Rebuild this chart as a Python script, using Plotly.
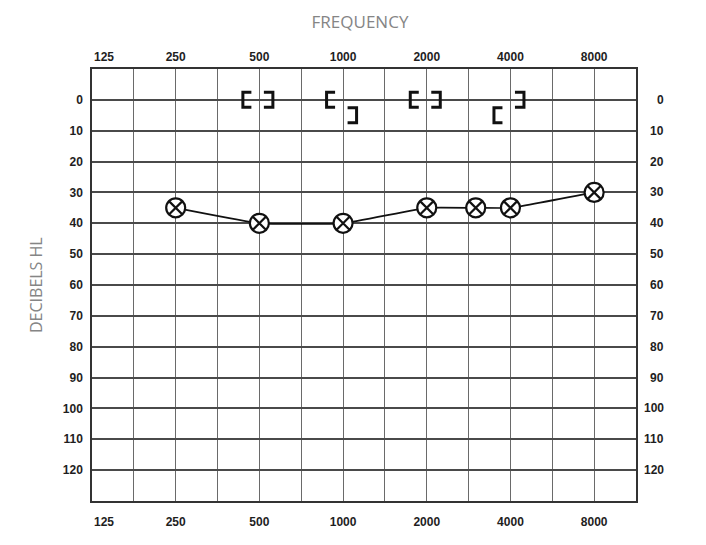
import math
import plotly.graph_objects as go

# ---------------- data ----------------
FREQ_TICKS = [125, 250, 500, 1000, 2000, 4000, 8000]
FREQ_LABELS = ["125", "250", "500", "1000", "2000", "4000", "8000"]
DB_TICKS = [0, 10, 20, 30, 40, 50, 60, 70, 80, 90, 100, 110, 120]
DB_LABELS = [str(v) for v in DB_TICKS]

# air conduction thresholds (circle with X)
AC_FREQ = [250, 500, 1000, 2000, 3000, 4000, 8000]
AC_DB = [35, 40, 40, 35, 35, 35, 30]

# bone conduction, "[" symbols
BC_L_FREQ = [500, 1000, 2000, 4000]
BC_L_DB = [0, 0, 0, 5]
# bone conduction, "]" symbols
BC_R_FREQ = [500, 1000, 2000, 4000]
BC_R_DB = [0, 5, 0, 0]

# ---------------- figure ----------------
# grid every half octave: octave frequencies plus their geometric means
grid_vals = []
grid_text = []
for i, f in enumerate(FREQ_TICKS):
    grid_vals.append(f)
    grid_text.append("" if i == 0 else FREQ_LABELS[i])
    grid_vals.append(f * math.sqrt(2))
    grid_text.append("")

x_range = [math.log10(FREQ_TICKS[0]), math.log10(FREQ_TICKS[-1] * math.sqrt(2))]

tick_font = dict(family="Liberation Sans, Arial, sans-serif", size=12, color="#1e1e1e", weight="bold")
gray_font = dict(family="Open Sans, Noto Sans, sans-serif", color="#858585")

# bracket glyphs drawn as pixel-sized paths anchored at each data point
LEFT_BRACKET_PATH = "M -8 -7.5 L -16.5 -7.5 L -16.5 7.5 L -8 7.5"
RIGHT_BRACKET_PATH = "M 4.5 -7.5 L 13.5 -7.5 L 13.5 7.5 L 4.5 7.5"
bracket_line = dict(color="#111111", width=3)

fig = go.Figure()

fig.add_trace(go.Scatter(
    x=AC_FREQ, y=AC_DB, mode="lines+markers",
    line=dict(color="#111111", width=1.7, shape="spline", smoothing=0.3),
    marker=dict(symbol="circle-x", size=19, color="white",
                line=dict(color="#111111", width=2.2)),
    hoverinfo="x+y", showlegend=False,
))
# dummy trace for top axis
fig.add_trace(go.Scatter(x=[FREQ_TICKS[0]], y=[None], xaxis="x2", showlegend=False,
                         hoverinfo="skip"))

shapes = []
for f, d in zip(BC_L_FREQ, BC_L_DB):
    shapes.append(dict(type="path", xref="x", yref="y", xsizemode="pixel", ysizemode="pixel",
                       xanchor=f, yanchor=d, path=LEFT_BRACKET_PATH, line=bracket_line))
for f, d in zip(BC_R_FREQ, BC_R_DB):
    shapes.append(dict(type="path", xref="x", yref="y", xsizemode="pixel", ysizemode="pixel",
                       xanchor=f, yanchor=d, path=RIGHT_BRACKET_PATH, line=bracket_line))

annotations = []
# right-hand dB labels (right aligned)
for v, t in zip(DB_TICKS, DB_LABELS):
    annotations.append(dict(x=1, y=v, xref="paper", yref="y", text=t, showarrow=False,
                            xanchor="right", xshift=30, font=tick_font))
# 125 labels at left border (top and bottom)
annotations.append(dict(x=math.log10(FREQ_TICKS[0]), y=1, xref="x", yref="paper",
                        text=FREQ_LABELS[0], showarrow=False, xanchor="left", yanchor="middle",
                        yshift=12, font=tick_font))
annotations.append(dict(x=math.log10(FREQ_TICKS[0]), y=0, xref="x", yref="paper",
                        text=FREQ_LABELS[0], showarrow=False, xanchor="left", yanchor="middle",
                        yshift=-21, font=tick_font))
# y title
annotations.append(dict(x=0, y=0.5, xref="paper", yref="paper", text="DECIBELS HL",
                        textangle=-90, showarrow=False, xanchor="center", yanchor="middle",
                        xshift=-56, font=dict(size=16, **gray_font)))

# page body has an 8px margin; compensate so the plot lands where the reference has it
OFF = 8
fig.update_layout(
    width=706, height=545,
    margin=dict(l=92 - OFF, r=78, t=69 - OFF, b=52),
    paper_bgcolor="white", plot_bgcolor="white",
    title=dict(text="FREQUENCY", x=(360 - OFF) / 706, xref="container", xanchor="center",
               y=1 - (22 - OFF) / 545, yanchor="middle", yref="container",
               font=dict(size=17, **gray_font)),
    xaxis=dict(type="log", range=x_range, tickvals=grid_vals, ticktext=grid_text,
               showgrid=True, gridcolor="#6a6a6a", gridwidth=1.2,
               showline=True, linecolor="#333333", linewidth=1.5, mirror=True,
               ticks="", tickfont=tick_font, ticklabelstandoff=9, zeroline=False),
    xaxis2=dict(type="log", range=x_range, tickvals=grid_vals, ticktext=grid_text,
                overlaying="x", side="top", anchor="y", matches="x",
                showgrid=False, ticks="", tickfont=tick_font, ticklabelstandoff=5,
                showline=False),
    yaxis=dict(range=[130, -10], tickvals=DB_TICKS, ticktext=DB_LABELS,
               showgrid=True, gridcolor="#4a4a4a", gridwidth=1.5,
               showline=True, linecolor="#333333", linewidth=1.5, mirror=True,
               ticks="", tickfont=tick_font, ticklabelstandoff=5, zeroline=False),
    shapes=shapes,
    annotations=annotations,
)

fig.write_html("out.html")
